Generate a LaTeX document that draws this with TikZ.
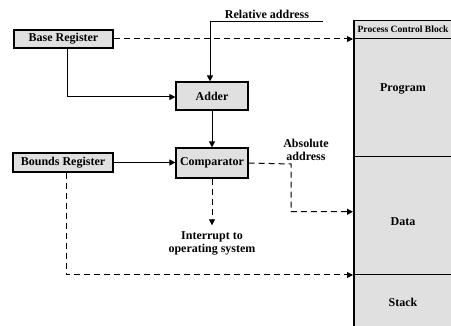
\documentclass[tikz,border=0pt]{standalone}
\usepackage{fontspec}
\setmainfont{Liberation Serif}
\usetikzlibrary{arrows.meta}
\definecolor{boxgray}{gray}{0.88}

\begin{document}
\begin{tikzpicture}[x=1pt, y=-1pt,
  font=\fontsize{12}{13.5}\selectfont\bfseries,
  >={Triangle[length=6pt,width=6pt]},
  reg/.style={draw, line width=1.2pt, fill=boxgray, inner sep=0pt, minimum height=18pt},
  seg/.style={draw, line width=1.5pt, fill=boxgray, anchor=north west, inner sep=0pt, minimum width=104pt},
  link/.style={line width=1pt},
  dlink/.style={line width=1pt, dash pattern=on 6pt off 4pt}]
\useasboundingbox (0,0) rectangle (451,326);
\clip (0,0) rectangle (451,326);

% process control block
\node[seg, minimum height=18pt] (pcb) at (353,20) {};
\node[seg, minimum height=118pt] (prog) at (353,38) {};
\node[seg, minimum height=118pt] (data) at (353,156) {};
\node[seg, minimum height=60pt] (stack) at (353,274) {};
\node[font=\fontsize{9.6}{11}\selectfont\bfseries] (pcbtext) at (403,29) {Process Control Block};
\node (progtext) at (403,89) {Program};
\node (datatext) at (403,222) {Data};
\node (stacktext) at (403,302) {Stack};

% registers and units
\node[reg, minimum width=99pt] (base) at (63.5,39) {Base Register};
\node[reg, minimum width=100pt, minimum height=19pt] (bounds) at (63,162.5) {Bounds Register};
\node[reg, minimum width=72pt, minimum height=28pt] (adder) at (212,96) {Adder};
\node[reg, minimum width=72pt, minimum height=30pt] (comp) at (212,163) {Comparator};

% labels
\node (reltext) at (267,14) {Relative address};
\node[align=center, inner sep=1pt] (irq) at (212,243.5) {Interrupt to\\operating system};
\node[align=center] (abstext) at (306,150) {Absolute\\address};
\coordinate (relend) at (323,22);
\coordinate (abscorner) at (291,164);

% connectors
\draw[link, ->] (relend) -- (210,22) -- ([xshift=-2pt]adder.north);
\draw[link, ->] ([xshift=3.5pt]base.south) |- ([yshift=-1pt]adder.west);
\draw[link, ->] (adder.south) -- (comp.north);
\draw[link, ->] (bounds.east) -- (bounds.east -| comp.west);
\draw[dlink, ->] (base.east) -- (base.east -| pcb.west);
\draw[dlink, ->] (comp.south) -- ([yshift=5pt]irq.north);
\draw[dlink, ->] (comp.east) -- (abscorner) |- ([yshift=4pt]data.west);
\draw[dlink, ->] ([xshift=3.5pt]bounds.south) |- ([yshift=-1pt]stack.north west);
\end{tikzpicture}
\end{document}
